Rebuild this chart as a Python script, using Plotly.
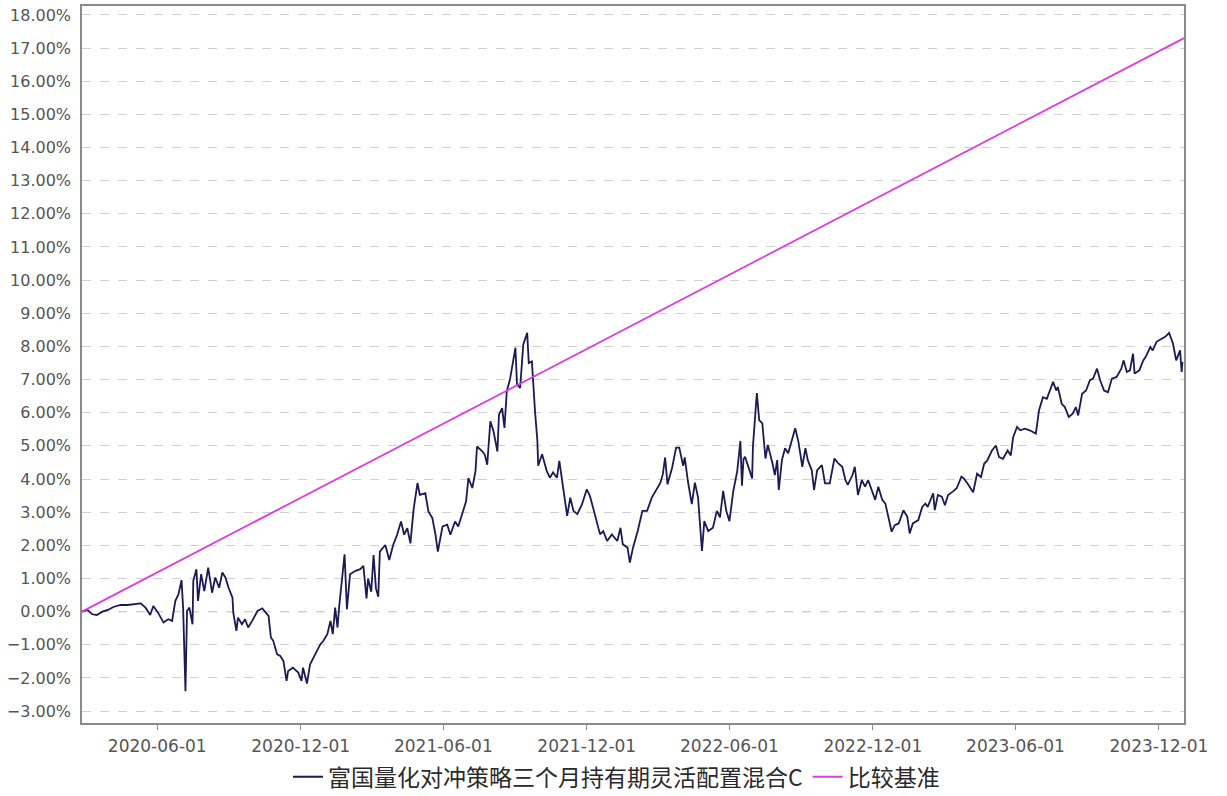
import plotly.graph_objects as go

fund_name = "富国量化对冲策略三个月持有期灵活配置混合C"
bench_name = "比较基准"

dates = [
    "2020-02-26", "2020-03-04", "2020-03-10", "2020-03-16", "2020-03-23", "2020-03-30",
    "2020-04-06", "2020-04-15", "2020-04-24", "2020-04-30", "2020-05-11", "2020-05-17",
    "2020-05-23", "2020-05-27", "2020-06-02", "2020-06-09", "2020-06-15", "2020-06-20",
    "2020-06-24", "2020-06-28", "2020-07-02", "2020-07-04", "2020-07-07", "2020-07-09",
    "2020-07-12", "2020-07-16", "2020-07-17", "2020-07-21", "2020-07-23", "2020-07-27",
    "2020-07-31", "2020-08-05", "2020-08-10", "2020-08-14", "2020-08-19", "2020-08-23",
    "2020-08-27", "2020-08-31", "2020-09-05", "2020-09-06", "2020-09-10", "2020-09-12",
    "2020-09-17", "2020-09-21", "2020-09-25", "2020-09-30", "2020-10-07", "2020-10-13",
    "2020-10-17", "2020-10-21", "2020-10-24", "2020-10-27", "2020-11-01", "2020-11-05",
    "2020-11-09", "2020-11-13", "2020-11-15", "2020-11-21", "2020-11-28", "2020-12-02",
    "2020-12-04", "2020-12-09", "2020-12-13", "2020-12-17", "2020-12-22", "2020-12-26",
    "2020-12-30",
    "2021-01-04", "2021-01-08", "2021-01-11", "2021-01-14", "2021-01-17", "2021-01-19",
    "2021-01-23", "2021-01-26", "2021-01-29", "2021-02-02", "2021-02-09", "2021-02-15",
    "2021-02-19", "2021-02-23", "2021-02-25", "2021-03-01", "2021-03-04", "2021-03-07",
    "2021-03-10", "2021-03-12", "2021-03-19", "2021-03-24", "2021-03-29", "2021-04-03",
    "2021-04-08", "2021-04-12", "2021-04-16", "2021-04-20", "2021-04-24", "2021-04-29",
    "2021-05-02", "2021-05-09", "2021-05-13", "2021-05-18", "2021-05-22", "2021-05-25",
    "2021-05-31", "2021-06-06", "2021-06-10", "2021-06-16", "2021-06-20", "2021-06-26",
    "2021-06-30", "2021-07-03", "2021-07-08", "2021-07-12", "2021-07-14", "2021-07-21",
    "2021-07-24", "2021-07-27", "2021-07-31", "2021-08-04", "2021-08-09", "2021-08-11",
    "2021-08-15", "2021-08-18", "2021-08-21", "2021-08-25", "2021-08-28", "2021-09-01",
    "2021-09-03", "2021-09-07", "2021-09-11", "2021-09-16", "2021-09-18", "2021-09-22",
    "2021-09-26", "2021-09-29", "2021-09-30", "2021-10-05", "2021-10-11", "2021-10-15",
    "2021-10-19", "2021-10-24", "2021-10-27", "2021-10-31", "2021-11-03", "2021-11-06",
    "2021-11-10", "2021-11-14", "2021-11-19", "2021-11-25", "2021-12-01", "2021-12-05",
    "2021-12-09", "2021-12-14", "2021-12-18", "2021-12-22", "2021-12-27",
    "2022-01-02", "2022-01-09", "2022-01-13", "2022-01-16", "2022-01-22", "2022-01-25",
    "2022-01-29", "2022-02-04", "2022-02-10", "2022-02-16", "2022-02-22", "2022-03-01",
    "2022-03-05", "2022-03-08", "2022-03-11", "2022-03-14", "2022-03-20", "2022-03-25",
    "2022-03-29", "2022-04-03", "2022-04-05", "2022-04-09", "2022-04-14", "2022-04-18",
    "2022-04-22", "2022-04-27", "2022-04-30", "2022-05-05", "2022-05-11", "2022-05-16",
    "2022-05-20", "2022-05-24", "2022-05-28", "2022-06-01", "2022-06-06", "2022-06-11",
    "2022-06-15", "2022-06-17", "2022-06-19", "2022-06-21", "2022-06-25", "2022-06-30",
    "2022-07-01", "2022-07-06", "2022-07-09", "2022-07-13", "2022-07-17", "2022-07-20",
    "2022-07-26", "2022-07-29", "2022-08-01", "2022-08-03", "2022-08-07", "2022-08-11",
    "2022-08-15", "2022-08-20", "2022-08-24", "2022-08-28", "2022-09-02", "2022-09-06",
    "2022-09-09", "2022-09-14", "2022-09-17", "2022-09-21", "2022-09-27", "2022-10-01",
    "2022-10-07", "2022-10-13", "2022-10-18", "2022-10-23", "2022-10-27", "2022-10-30",
    "2022-11-05", "2022-11-08", "2022-11-12", "2022-11-17", "2022-11-21", "2022-11-25",
    "2022-11-30", "2022-12-04", "2022-12-08", "2022-12-13", "2022-12-17", "2022-12-20",
    "2022-12-25", "2022-12-29",
    "2023-01-03", "2023-01-09", "2023-01-14", "2023-01-17", "2023-01-21", "2023-01-28",
    "2023-02-02", "2023-02-06", "2023-02-09", "2023-02-16", "2023-02-18", "2023-02-22",
    "2023-02-27", "2023-03-03", "2023-03-07", "2023-03-13", "2023-03-18", "2023-03-24",
    "2023-03-27", "2023-04-01", "2023-04-08", "2023-04-13", "2023-04-18", "2023-04-22",
    "2023-04-26", "2023-05-02", "2023-05-07", "2023-05-11", "2023-05-16", "2023-05-22",
    "2023-05-26", "2023-05-29", "2023-06-03", "2023-06-07", "2023-06-13", "2023-06-19",
    "2023-06-27", "2023-07-01", "2023-07-06", "2023-07-11", "2023-07-15", "2023-07-19",
    "2023-07-23", "2023-07-25", "2023-07-30", "2023-08-03", "2023-08-08", "2023-08-13",
    "2023-08-17", "2023-08-20", "2023-08-25", "2023-08-30", "2023-09-04", "2023-09-08",
    "2023-09-13", "2023-09-17", "2023-09-22", "2023-09-27", "2023-10-02", "2023-10-08",
    "2023-10-14", "2023-10-17", "2023-10-21", "2023-10-25", "2023-10-29", "2023-10-31",
    "2023-11-06", "2023-11-11", "2023-11-14", "2023-11-20", "2023-11-23", "2023-11-28",
    "2023-12-05", "2023-12-09", "2023-12-14", "2023-12-19", "2023-12-23", "2023-12-25",
    "2023-12-28", "2023-12-30", "2023-12-31",
]

fund_values = [
    0.00, 0.05, -0.08, -0.10, 0.00, 0.05,
    0.14, 0.20, 0.20, 0.22, 0.25, 0.12,
    -0.10, 0.17, -0.03, -0.33, -0.23, -0.28,
    0.32, 0.52, 0.95, 0.12, -2.40, 0.02,
    0.12, -0.38, 0.93, 1.28, 0.32, 1.13,
    0.62, 1.33, 0.57, 1.03, 0.72, 1.18,
    1.03, 0.72, 0.42, -0.03, -0.58, -0.18,
    -0.38, -0.23, -0.48, -0.28, 0.02, 0.10,
    0.00, -0.13, -0.78, -0.88, -1.29, -1.34,
    -1.49, -2.09, -1.79, -1.69, -1.84, -2.09,
    -1.69, -2.17, -1.59, -1.39, -1.19, -0.99,
    -0.88,
    -0.68, -0.28, -0.68, 0.12, -0.48, 0.12,
    1.03, 1.73, 0.07, 1.13, 1.23, 1.28,
    1.38, 0.40, 1.00, 0.60, 1.71, 0.70,
    0.45, 1.81, 2.01, 1.56, 2.01, 2.32,
    2.72, 2.32, 2.52, 2.06, 3.07, 3.88,
    3.52, 3.57, 3.02, 2.82, 2.32, 1.81,
    2.57, 2.62, 2.32, 2.72, 2.57, 3.02,
    3.32, 4.03, 3.73, 4.23, 4.98, 4.83,
    4.73, 4.43, 5.74, 5.44, 4.83, 5.94,
    6.14, 5.54, 6.65, 7.00, 7.45, 7.96,
    6.85, 6.75, 8.06, 8.41, 7.50, 7.55,
    6.04, 5.15, 4.40, 4.75, 4.24, 4.04,
    4.20, 4.04, 4.55, 3.94, 3.44, 2.89,
    3.44, 3.04, 2.94, 3.24, 3.69, 3.49,
    3.14, 2.73, 2.33, 2.43, 2.13,
    2.33, 2.13, 2.53, 2.03, 1.93, 1.48,
    1.93, 2.43, 3.04, 3.04, 3.44, 3.74,
    3.89, 4.14, 4.65, 3.84, 4.35, 4.95,
    4.95, 4.40, 4.65, 3.94, 3.24, 3.89,
    3.44, 1.83, 2.73, 2.43, 2.53, 3.04,
    2.84, 3.64, 3.04, 2.73, 3.64, 4.24,
    5.15, 3.80, 4.60, 4.67, 4.37, 4.02,
    4.98, 6.59, 5.78, 5.68, 4.62, 5.03,
    4.47, 4.12, 4.57, 3.67, 4.57, 4.93,
    4.78, 5.18, 5.53, 5.13, 4.37, 4.93,
    4.57, 4.27, 3.67, 4.27, 4.42, 3.87,
    3.87, 4.62, 4.47, 4.37, 3.97, 3.82,
    4.12, 4.37, 3.52, 3.97, 3.77, 3.97,
    3.67, 3.37, 3.77, 3.37, 3.26, 2.96,
    2.41, 2.61,
    2.66, 3.06, 2.86, 2.36, 2.66, 2.76,
    3.16, 3.26, 3.16, 3.57, 3.06, 3.52,
    3.47, 3.21, 3.52, 3.62, 3.72, 4.07,
    4.02, 3.86, 3.60, 4.16, 4.06, 4.46,
    4.56, 4.86, 5.01, 4.66, 4.61, 4.86,
    4.71, 5.26, 5.57, 5.47, 5.52, 5.47,
    5.37, 6.07, 6.47, 6.42, 6.67, 6.93,
    6.67, 6.78, 6.27, 6.17, 5.87, 5.97,
    6.17, 5.92, 6.57, 6.67, 6.98, 7.03,
    7.33, 6.98, 6.67, 6.62, 7.03, 7.08,
    7.33, 7.58, 7.23, 7.28, 7.78, 7.18,
    7.28, 7.58, 7.68, 7.98, 7.88, 8.14,
    8.24, 8.29, 8.41, 8.08, 7.58, 7.68,
    7.88, 7.23, 7.53,
]

bench_dates = ["2020-02-26", "2024-01-02"]
bench_values = [0.00, 17.30]

x_range = ["2020-02-26", "2024-01-02"]
y_range = [-3.36, 18.27]

fig = go.Figure()
fig.add_trace(go.Scatter(
    x=dates, y=fund_values, mode="lines", name=fund_name,
    line=dict(color="#1a1a55", width=1.8),
))
fig.add_trace(go.Scatter(
    x=bench_dates, y=bench_values, mode="lines", name=bench_name,
    line=dict(color="#dd3ddd", width=1.8),
))

fig.add_shape(type="line", xref="paper", x0=0, x1=1, yref="y", y0=0, y1=0,
              line=dict(color="#666666", width=1, dash="dash"), layer="below")

fig.update_layout(
    width=1227, height=796,
    margin=dict(l=82, r=43, t=6, b=73, autoexpand=False),
    paper_bgcolor="white", plot_bgcolor="white",
    font=dict(family="DejaVu Sans", size=16, color="#555555"),
    showlegend=True,
    legend=dict(
        orientation="h", x=0.485, xanchor="center", y=-0.075, yanchor="middle",
        font=dict(family="Noto Sans CJK SC", size=23, color="#2a2a2a"),
        itemwidth=30, traceorder="normal",
    ),
    xaxis=dict(
        type="date", range=x_range, automargin=False,
        tick0="2020-06-01", dtick="M6", tickformat="%Y-%m-%d",
        showgrid=False, zeroline=False,
        showline=True, linecolor="#8a8a8a", linewidth=1.5, mirror=True,
        ticks="outside", ticklen=5, tickcolor="#8a8a8a",
        ticklabelstandoff=2,
        tickfont=dict(family="DejaVu Sans", size=17, color="#555555"),
    ),
    yaxis=dict(
        range=y_range, dtick=1, tick0=0, tickformat=".2f", ticksuffix="%",
        automargin=False,
        showgrid=True, gridcolor="#d0d0d0", gridwidth=1, griddash="dash",
        zeroline=False,
        showline=True, linecolor="#8a8a8a", linewidth=1.5, mirror=True,
        ticks="", ticklabelstandoff=6,
        tickfont=dict(family="DejaVu Sans", size=16, color="#555555"),
    ),
)

fig.write_html(
    "out.html",
    config={"displayModeBar": False},
    post_script="document.body.style.margin='0';document.body.style.padding='0';",
)
